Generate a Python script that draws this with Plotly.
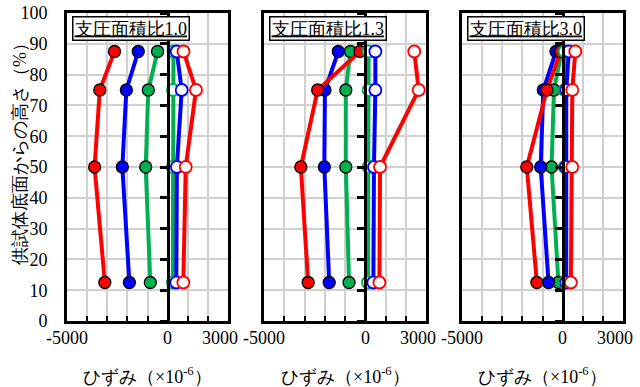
import plotly.graph_objects as go

heights = [12.5, 50, 75, 87.5]
panel_titles = ["支圧面積比1.0", "支圧面積比1.3", "支圧面積比3.0"]
x_tick_vals = [-5000, 0, 3000]
x_tick_text = ["-5000", "0", "3000"]
x_title = "ひずみ（×10<sup>-6</sup>）"
y_title = "供試体底面からの高さ（%）"

# panel 1 (ratio 1.0)
p1_red_in = [-3120, -3630, -3370, -2640]
p1_blue_in = [-1900, -2250, -2050, -1460]
p1_green_in = [-860, -1090, -960, -500]
p1_green_out = [260, 250, 265, 290]
p1_blue_out = [430, 460, 700, 450]
p1_red_out = [780, 900, 1410, 790]

# panel 2 (ratio 1.3)
p2_red_in = [-2820, -3180, -2350, -265]
p2_blue_in = [-1780, -2020, -1990, -1330]
p2_green_in = [-800, -960, -960, -730]
p2_green_out = [135, 165, 165, 165]
p2_blue_out = [400, 430, 500, 500]
p2_red_out = [700, 730, 2640, 2420]

# panel 3 (ratio 3.0)
p3_red_in = [-1280, -1780, -780, -100]
p3_blue_in = [-700, -1090, -960, -330]
p3_green_in = [-210, -550, -430, -50]
p3_green_out = [100, 100, 100, 100]
p3_blue_out = [180, 160, 180, 310]
p3_red_out = [410, 480, 480, 630]

panels = [
    [p1_green_in, p1_blue_in, p1_red_in, p1_green_out, p1_blue_out, p1_red_out],
    [p2_green_in, p2_blue_in, p2_red_in, p2_green_out, p2_blue_out, p2_red_out],
    [p3_green_in, p3_blue_in, p3_red_in, p3_green_out, p3_blue_out, p3_red_out],
]
colors = ["#00B050", "#0000FF", "#FF0000", "#00B050", "#0000FF", "#FF0000"]
filled = [True, True, True, False, False, False]

x_range = [-5000, 3000]
y_range = [0, 100]

serif = "Liberation Serif"
W, H = 640, 387
ml, mr, mt, mb = 67, 17, 13, 66
pw = W - ml - mr
ph = H - mt - mb
px_domains = [(67, 228), (264, 426), (462, 623)]
domains = [((a - ml) / pw, (b - ml) / pw) for a, b in px_domains]
tick_shift = {-5000: 0, 0: 0, 3000: -8}

fig = go.Figure()

for i, series in enumerate(panels):
    xa = "x" if i == 0 else f"x{i+1}"
    ya = "y" if i == 0 else f"y{i+1}"
    for vals, col, fl in zip(series, colors, filled):
        fig.add_trace(go.Scatter(
            x=vals, y=heights, xaxis=xa, yaxis=ya, mode="lines+markers",
            line=dict(color=col, width=4),
            marker=dict(size=12,
                        color=col if fl else "white",
                        line=dict(color="black" if fl else col, width=1.3 if fl else 1.8)),
            showlegend=False, cliponaxis=False,
        ))
    fig.add_trace(go.Scatter(x=[None], y=[None], xaxis=xa, yaxis=f"y{i+4}",
                             showlegend=False, hoverinfo="skip"))

layout = dict(
    width=W, height=H,
    margin=dict(l=ml, r=mr, t=mt, b=mb, autoexpand=False),
    paper_bgcolor="white", plot_bgcolor="white",
    font=dict(family=serif, size=18, color="black"),
    annotations=[],
)

for i in range(3):
    xk = "xaxis" if i == 0 else f"xaxis{i+1}"
    yk = "yaxis" if i == 0 else f"yaxis{i+1}"
    xa = "x" if i == 0 else f"x{i+1}"
    ya = "y" if i == 0 else f"y{i+1}"
    d0, d1 = domains[i]
    layout[xk] = dict(
        domain=[d0, d1], anchor=ya, range=x_range, automargin=False,
        tickvals=x_tick_vals, showticklabels=False,
        ticks="inside", ticklen=5, tickwidth=1.5, tickcolor="black",
        minor=dict(dtick=1000, tick0=0, ticks="inside", ticklen=5, tickwidth=1.5,
                   tickcolor="black", showgrid=True, gridcolor="#D0D0D0", gridwidth=1.5),
        showgrid=False, zeroline=False,
        showline=True, linecolor="black", linewidth=3, mirror=True,
    )
    layout[yk] = dict(
        domain=[0, 1], anchor=xa, range=y_range, dtick=10, automargin=False,
        showgrid=True, gridcolor="#D0D0D0", gridwidth=1.5,
        zeroline=False, ticks="",
        showline=True, linecolor="black", linewidth=3, mirror=True,
        showticklabels=(i == 0), ticklabelstandoff=13,
        tickfont=dict(family=serif, size=18),
    )
    zero_pos = d0 + (d1 - d0) * (0 - x_range[0]) / (x_range[1] - x_range[0])
    layout[f"yaxis{i+4}"] = dict(
        overlaying=ya, anchor="free", position=zero_pos, side="left",
        range=y_range, dtick=10, showgrid=False, zeroline=False, automargin=False,
        showline=True, linecolor="black", linewidth=3,
        ticks="outside", ticklen=7, tickwidth=3, tickcolor="black",
        showticklabels=False,
    )
    layout["annotations"].append(dict(
        text=f"<u>{panel_titles[i]}</u>", xref=f"{xa} domain", yref=f"{ya} domain",
        x=5 / 161, y=0.99, xanchor="left", yanchor="top", showarrow=False,
        bgcolor="white", bordercolor="black", borderwidth=1.5, borderpad=1,
        font=dict(family=serif, size=18, color="black"),
    ))
    for tv, tt in zip(x_tick_vals, x_tick_text):
        layout["annotations"].append(dict(
            text=tt, xref=xa, yref="paper", x=tv, y=-17 / ph, yanchor="middle",
            xanchor="center", xshift=tick_shift[tv], showarrow=False,
            font=dict(family=serif, size=18, color="black"),
        ))
    layout["annotations"].append(dict(
        text=x_title, xref=f"{xa} domain", yref="paper", x=0.5, y=-54 / ph,
        yanchor="middle", xanchor="center", showarrow=False,
        font=dict(family=serif, size=18, color="black"),
    ))

layout["annotations"].append(dict(
    text=y_title, xref="paper", yref="paper", x=-47 / pw, y=(321 - 150) / ph,
    xanchor="center", yanchor="middle", textangle=-90, showarrow=False,
    font=dict(family=serif, size=18, color="black"),
))

fig.update_layout(**layout)
fig.write_html("out.html", config={"displayModeBar": False},
               post_script="document.body.style.margin='0px';document.body.style.overflow='hidden';")
